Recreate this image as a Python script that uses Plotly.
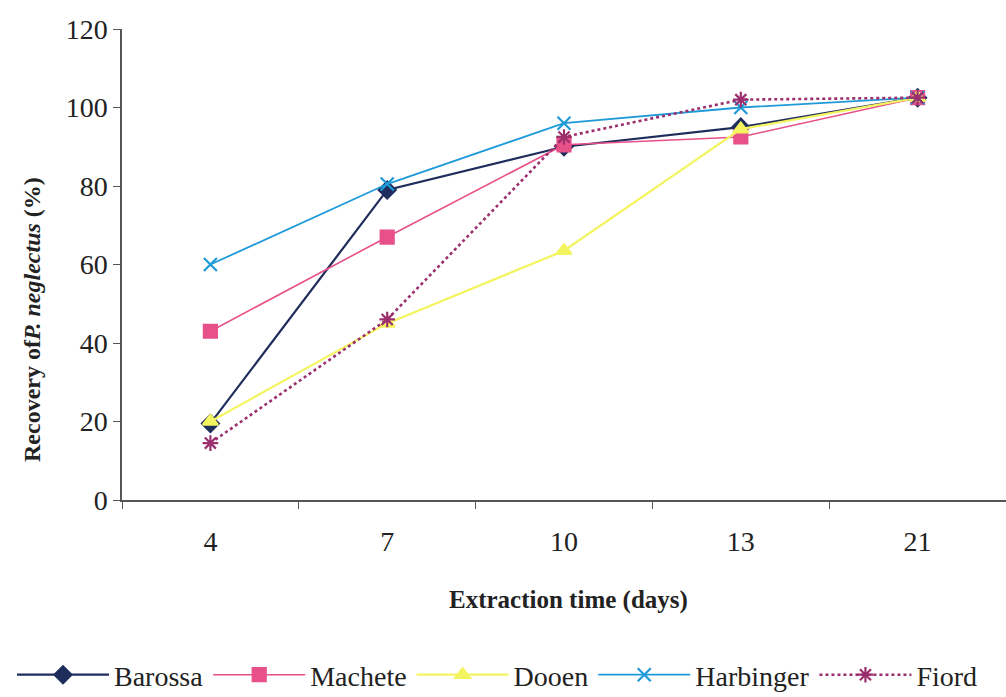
import plotly.graph_objects as go

days = ["4", "7", "10", "13", "21"]
barossa = [19.5, 79, 90, 95, 102.5]
machete = [43, 67, 90.5, 92.5, 102.5]
dooen = [20, 45, 63.5, 94.5, 102.5]
harbinger = [60, 80.5, 96, 100, 102.5]
fiord = [14.5, 46, 92.5, 102, 102.5]

series = [
    ("Barossa", barossa, "#1f2d5c", "diamond", "solid", 2.2),
    ("Machete", machete, "#e8508a", "square", "solid", 1.6),
    ("Dooen", dooen, "#f4f460", "triangle-up", "solid", 2.2),
    ("Harbinger", harbinger, "#1f9ad8", "x-thin-open", "solid", 1.8),
    ("Fiord", fiord, "#9b2f6e", "asterisk-open", "dot", 2.6),
]

FONT = "Liberation Serif"

fig = go.Figure()
for name, vals, color, sym, dash, w in series:
    fig.add_trace(go.Scatter(
        x=days, y=vals, name=name, mode="lines+markers",
        line=dict(color=color, width=w, dash=dash),
        marker=dict(symbol=sym, size=13, color=color,
                    line=dict(color=color, width=2.2)),
    ))

fig.update_layout(
    width=1006, height=697,
    paper_bgcolor="white", plot_bgcolor="white",
    margin=dict(l=122, r=0, t=29, b=197, autoexpand=False),
    font=dict(family=FONT, size=26, color="#222"),
    showlegend=True,
    legend=dict(orientation="h", x=-(122 - 12) / 884, xanchor="left",
                y=-(675 - 500) / 471, yanchor="middle",
                font=dict(size=28, family=FONT, color="#222"),
                itemwidth=92,
                tracegroupgap=0, traceorder="normal", bgcolor="rgba(0,0,0,0)"),
    xaxis=dict(
        type="category", range=[-0.5, 4.5],
        showline=True, linecolor="#555", linewidth=1.5,
        ticks="outside", ticklen=7, tickcolor="#555", tickson="boundaries",
        showgrid=False, zeroline=False,
        tickfont=dict(size=28, family=FONT, color="#222"), ticklabelstandoff=16,
    ),
    yaxis=dict(
        range=[0, 120], tickvals=[0, 20, 40, 60, 80, 100, 120],
        showline=True, linecolor="#555", linewidth=1.5,
        ticks="outside", ticklen=7, tickcolor="#555",
        showgrid=False, zeroline=False,
        tickfont=dict(size=28, family=FONT, color="#222"),
    ),
    annotations=[
        dict(text="<b>Extraction time (days)</b>", xref="paper", yref="paper",
             x=(568 - 122) / 884, y=-(600 - 500) / 471, xanchor="center", yanchor="middle",
             showarrow=False, font=dict(size=25, family=FONT, color="#222")),
        dict(text="<b>Recovery of<i>P. neglectus</i> (%)</b>", xref="paper", yref="paper",
             x=-(122 - 32) / 884, y=(500 - 320) / 471, xanchor="center", yanchor="middle",
             textangle=-90, showarrow=False,
             font=dict(size=24, family=FONT, color="#222")),
    ],
)

fig.write_html("out.html")
